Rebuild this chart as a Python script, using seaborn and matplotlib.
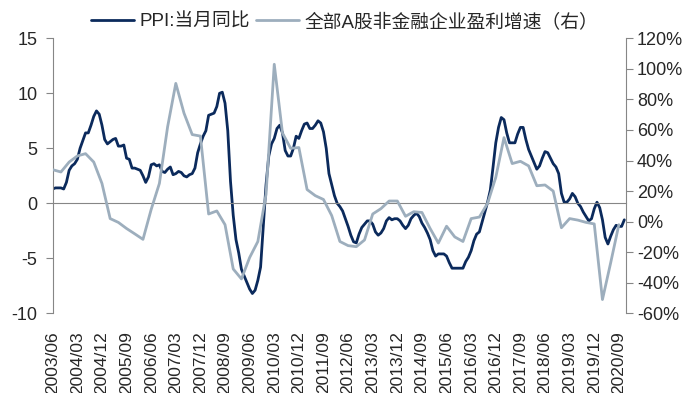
import matplotlib
matplotlib.use("Agg")
import matplotlib.pyplot as plt
import seaborn as sns
import pandas as pd
from matplotlib.ticker import FuncFormatter

# monthly categories 2003/06 .. 2020/11
months = pd.period_range("2003-06", "2020-11", freq="M").strftime("%Y/%m").tolist()

# PPI: 当月同比 (%), monthly
ppi = [
    1.3, 1.4, 1.4, 1.4, 1.3, 1.9, 3.0,                                  # 2003/06-12
    3.4, 3.6, 4.0, 5.0, 5.7, 6.4, 6.4, 7.1, 7.9, 8.4, 8.1, 7.1,          # 2004
    5.8, 5.4, 5.6, 5.8, 5.9, 5.2, 5.2, 5.3, 4.1, 4.0, 3.2, 3.2,          # 2005
    3.1, 3.0, 2.5, 1.9, 2.4, 3.5, 3.6, 3.4, 3.5, 2.9, 2.8, 3.1,          # 2006
    3.3, 2.6, 2.7, 2.9, 2.8, 2.5, 2.4, 2.6, 2.7, 3.2, 4.6, 5.4,          # 2007
    6.1, 6.6, 8.0, 8.1, 8.2, 8.8, 10.0, 10.1, 9.1, 6.6, 2.0, -1.1,      # 2008
    -3.3, -4.5, -6.0, -6.6, -7.2, -7.8, -8.2, -7.9, -7.0, -5.8, -2.1, 1.7,  # 2009
    4.3, 5.4, 5.9, 6.8, 7.1, 6.4, 4.8, 4.3, 4.3, 5.0, 6.1, 5.9,          # 2010
    6.6, 7.2, 7.3, 6.8, 6.8, 7.1, 7.5, 7.3, 6.5, 5.0, 2.7, 1.7,          # 2011
    0.7, 0.0, -0.3, -0.7, -1.4, -2.1, -2.9, -3.5, -3.6, -2.8, -2.2, -1.9,   # 2012
    -1.6, -1.6, -1.9, -2.6, -2.9, -2.7, -2.3, -1.6, -1.3, -1.5, -1.4, -1.4,  # 2013
    -1.6, -2.0, -2.3, -2.0, -1.4, -1.1, -0.9, -1.2, -1.8, -2.2, -2.7, -3.3,  # 2014
    -4.3, -4.8, -4.6, -4.6, -4.6, -4.8, -5.4, -5.9, -5.9, -5.9, -5.9, -5.9,  # 2015
    -5.3, -4.9, -4.3, -3.4, -2.8, -2.6, -1.7, -0.8, 0.1, 1.2, 3.3, 5.5,      # 2016
    6.9, 7.8, 7.6, 6.4, 5.5, 5.5, 5.5, 6.3, 6.9, 6.9, 5.8, 4.9,          # 2017
    4.3, 3.7, 3.1, 3.4, 4.1, 4.7, 4.6, 4.1, 3.6, 3.3, 2.7, 0.9,          # 2018
    0.1, 0.1, 0.4, 0.9, 0.6, 0.0, -0.3, -0.8, -1.2, -1.6, -1.4, -0.5,    # 2019
    0.1, -0.4, -1.5, -3.1, -3.7, -3.0, -2.4, -2.0, -2.1, -2.1, -1.5,     # 2020/01-11
]

# 全部A股非金融企业盈利增速 (%), quarterly 2003/06 .. 2020/09
profit = [
    34, 32.5, 39,
    43, 44.5, 39, 25,
    2, -0.5, -4.5, -8,
    -11.6, 8, 25, 62,
    90.5, 71, 57, 56,
    5, 7, -2, -31,
    -37.5, -23.5, -13, 18,
    103, 58, 48, 48.5,
    21, 17, 14.5, 4,
    -13, -15.7, -16.4, -12,
    5, 8.5, 13.5, 13.5,
    3.5, 6.5, 6, -4.5,
    -14, -3, -10, -13,
    2, 3, 12, 29,
    55, 38, 39.5, 36.5,
    23.5, 24, 20, -4,
    2, 1, -0.5, -1.5,
    -51, -27, -2,
]
quarters = months[::3][:len(profit)]

tick_labels = ["2003/06", "2004/03", "2004/12", "2005/09", "2006/06", "2007/03",
               "2007/12", "2008/09", "2009/06", "2010/03", "2010/12", "2011/09",
               "2012/06", "2013/03", "2013/12", "2014/09", "2015/06", "2016/03",
               "2016/12", "2017/09", "2018/06", "2019/03", "2019/12", "2020/09"]

ppi_df = pd.DataFrame({"pos": range(len(months)), "ppi": ppi})
profit_df = pd.DataFrame({"pos": [months.index(q) for q in quarters], "profit": profit})
tick_pos = [months.index(t) for t in tick_labels]

sns.set_style("white")
plt.rcParams["font.family"] = ["Liberation Sans", "Noto Sans CJK SC", "DejaVu Sans"]
plt.rcParams["axes.unicode_minus"] = False

dark = "#0b2a5c"
grey = "#9daebd"
axis_grey = "#868686"

fig = plt.figure(figsize=(6.83, 3.93), dpi=100)
ax = fig.add_axes([0.0772, 0.2028, 0.9165 - 0.0772, 0.9025 - 0.2028])
ax2 = ax.twinx()

sns.lineplot(data=ppi_df, x="pos", y="ppi", ax=ax, color=dark, linewidth=2.0,
             label="PPI:当月同比", legend=False)
sns.lineplot(data=profit_df, x="pos", y="profit", ax=ax2, color=grey, linewidth=2.0,
             label="全部A股非金融企业盈利增速（右）", legend=False)

ax.set_xlim(0, 209.6)
ax.set_ylim(-10, 15)
ax.set_yticks([-10, -5, 0, 5, 10, 15])
ax2.set_ylim(-60, 120)
ax2.set_yticks(range(-60, 121, 20))
ax2.yaxis.set_major_formatter(FuncFormatter(lambda v, p: f"{v:.0f}%"))

for a in (ax, ax2):
    a.set_xlabel("")
    a.set_ylabel("")
    for side in ("top", "bottom", "left", "right"):
        a.spines[side].set_visible(False)

ax.spines["left"].set_visible(True)
ax.spines["left"].set_color(axis_grey)
ax2.spines["right"].set_visible(True)
ax2.spines["right"].set_color(axis_grey)
ax.spines["bottom"].set_visible(True)
ax.spines["bottom"].set_position(("data", 0))
ax.spines["bottom"].set_color(axis_grey)

ax.set_xticks(tick_pos)
ax.tick_params(axis="x", direction="out", length=5, color=axis_grey, labelbottom=False)
ax.tick_params(axis="y", direction="out", length=5, color=axis_grey, labelsize=13, pad=6,
               left=True)
ax2.tick_params(axis="y", direction="out", length=5, color=axis_grey, labelsize=13, pad=3,
                right=True)

# date labels sit under the plot, not on the zero line
sec = ax.secondary_xaxis("bottom")
sec.set_xticks(tick_pos)
sec.set_xticklabels(tick_labels, rotation=90, fontsize=12.5)
sec.tick_params(length=0, pad=13)
sec.spines["bottom"].set_visible(False)

handles = ax.get_lines()[:1] + ax2.get_lines()[:1]
fig.legend(handles, [h.get_label() for h in handles], loc="center",
           bbox_to_anchor=(0.505, 0.944), ncol=2, frameon=False, fontsize=13.5,
           handlelength=2.3, handletextpad=0.3, columnspacing=0.3)

fig.savefig("out.png", dpi=100)
